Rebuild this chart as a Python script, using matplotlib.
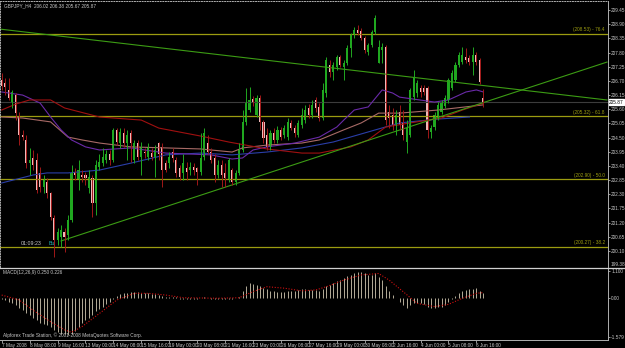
import matplotlib
matplotlib.use("Agg")
import matplotlib.pyplot as plt
from matplotlib.lines import Line2D
import numpy as np

plt.rcParams["font.family"] = ["Liberation Sans Narrow", "Liberation Sans", "DejaVu Sans"]

# ---- GBPJPY H4 candles ----
opens = [206.73, 206.62, 206.35, 205.84, 206.15, 205.30, 204.60, 204.41, 203.51, 203.71,
         203.63, 203.13, 202.58, 202.78, 202.35, 201.38, 200.53, 200.65, 200.84, 200.72,
         201.30, 203.17, 202.86, 203.05, 203.05, 202.55, 202.93, 201.96, 203.36, 203.51,
         203.63, 203.85, 203.63, 204.80, 204.29, 204.68, 204.29, 204.68, 203.63, 204.29,
         203.75, 203.94, 203.75, 203.90, 203.75, 204.29, 204.14, 203.51, 203.51, 203.94,
         203.63, 203.32, 203.13, 203.32, 203.24, 203.36, 203.32, 203.17, 203.75, 204.29,
         203.94, 203.71, 203.05, 203.44, 203.13, 202.86, 203.24, 202.78, 203.13, 204.02,
         205.11, 205.57, 206.00, 205.38, 206.04, 205.11, 204.60, 204.14, 204.68, 204.41,
         204.80, 204.60, 204.52, 205.07, 204.87, 204.60, 204.99, 205.18, 205.65, 205.38,
         205.96, 205.69, 205.26, 206.23, 207.32, 207.05, 207.24, 207.63, 207.24, 207.40,
         207.98, 208.48, 208.67, 208.63, 208.36, 207.82, 208.09, 208.60, 207.40, 207.90,
         208.01, 205.49, 205.38, 204.99, 205.49, 205.07, 204.33, 204.60, 206.07, 206.23,
         206.42, 206.42, 206.42, 204.72, 204.91, 205.30, 205.49, 205.73, 205.96, 206.42,
         206.73, 207.32, 207.43, 207.63, 207.59, 207.43, 207.70, 207.51, 206.02]
highs = [207.01, 206.81, 206.81, 206.35, 206.23, 205.49, 204.80, 204.60, 204.10, 204.02,
         203.90, 203.36, 203.05, 202.93, 202.39, 201.50, 201.00, 201.11, 201.00, 201.50,
         203.44, 203.32, 203.63, 203.24, 203.17, 203.24, 203.05, 203.63, 203.85, 204.10,
         204.02, 204.02, 204.87, 204.87, 204.87, 204.87, 204.80, 204.80, 204.41, 204.41,
         204.33, 204.10, 204.29, 204.10, 204.21, 204.33, 204.29, 203.63, 203.94, 204.10,
         203.75, 203.44, 203.85, 203.55, 203.55, 203.51, 203.36, 204.68, 204.87, 204.60,
         204.10, 203.85, 203.63, 203.63, 203.51, 203.71, 203.32, 203.24, 204.29, 205.57,
         206.42, 206.46, 206.11, 206.15, 206.15, 205.18, 204.87, 204.80, 204.87, 204.95,
         204.91, 204.99, 205.26, 205.18, 204.99, 205.18, 205.65, 205.77, 205.80, 205.96,
         206.07, 205.84, 206.62, 207.63, 207.51, 207.43, 207.70, 207.70, 207.51, 208.09,
         208.56, 208.79, 208.87, 208.75, 208.44, 208.17, 208.67, 209.26, 208.29, 208.17,
         208.09, 205.77, 205.65, 205.57, 205.77, 205.57, 205.18, 206.42, 207.12, 206.73,
         206.54, 206.54, 206.50, 204.99, 205.49, 205.88, 205.96, 206.15, 206.81, 207.12,
         207.43, 207.82, 208.01, 207.98, 207.70, 208.01, 207.82, 207.59, 206.38]
lows = [206.35, 206.15, 205.96, 205.65, 205.18, 204.21, 204.41, 203.32, 203.05, 203.24,
        202.35, 202.39, 202.35, 202.16, 201.30, 199.87, 200.34, 200.26, 200.06, 200.53,
        201.23, 202.86, 202.47, 202.78, 202.66, 202.35, 201.42, 201.50, 203.24, 203.40,
        203.51, 203.44, 203.55, 204.21, 204.10, 204.14, 203.63, 203.55, 203.51, 203.63,
        203.05, 203.71, 203.63, 203.63, 202.97, 203.63, 202.58, 203.17, 203.32, 203.55,
        202.97, 202.86, 202.86, 202.86, 203.05, 203.05, 202.66, 203.05, 203.63, 203.85,
        203.51, 202.78, 202.93, 202.58, 202.58, 202.78, 202.66, 202.66, 203.05, 203.94,
        204.99, 205.49, 205.73, 205.30, 204.80, 204.29, 204.02, 204.02, 204.29, 204.29,
        204.41, 204.49, 204.41, 204.80, 204.52, 204.52, 204.87, 205.07, 205.26, 205.26,
        205.49, 205.15, 205.18, 206.07, 206.85, 206.73, 207.12, 207.24, 206.73, 207.32,
        207.63, 208.36, 208.48, 208.29, 207.78, 207.70, 208.01, 208.52, 207.40, 207.40,
        204.99, 204.87, 204.80, 204.60, 204.80, 204.41, 203.90, 204.52, 205.96, 206.07,
        206.07, 206.15, 204.49, 204.49, 204.80, 205.18, 205.42, 205.65, 205.84, 206.35,
        206.66, 207.24, 207.36, 207.40, 207.32, 206.93, 207.32, 206.58, 205.67]
closes = [206.50, 206.46, 206.04, 206.27, 205.45, 204.60, 204.52, 203.51, 203.63, 203.44,
          202.47, 202.58, 202.86, 202.35, 201.42, 200.53, 200.84, 200.92, 200.65, 201.30,
          203.13, 203.05, 203.24, 202.97, 202.93, 202.97, 201.96, 203.44, 203.55, 203.75,
          203.85, 203.63, 204.80, 204.33, 204.72, 204.29, 204.60, 204.29, 204.29, 203.75,
          204.14, 203.90, 204.14, 203.75, 204.02, 203.85, 203.24, 203.24, 203.75, 203.71,
          203.13, 202.97, 203.51, 203.17, 203.36, 203.24, 203.17, 203.71, 204.68, 203.94,
          203.63, 203.05, 203.44, 203.05, 202.93, 203.63, 202.78, 203.13, 204.02, 205.11,
          205.88, 205.96, 205.88, 206.04, 205.11, 204.49, 204.14, 204.68, 204.41, 204.80,
          204.52, 204.87, 205.11, 204.87, 204.68, 205.07, 205.38, 205.57, 205.38, 205.77,
          205.65, 205.26, 206.35, 207.51, 207.05, 207.32, 207.63, 207.32, 207.40, 207.98,
          208.48, 208.67, 208.56, 208.36, 207.90, 208.09, 208.60, 209.14, 208.01, 208.01,
          205.18, 205.26, 204.99, 205.38, 204.99, 204.60, 204.87, 206.35, 206.85, 206.62,
          206.27, 206.27, 204.80, 204.87, 205.38, 205.77, 205.84, 206.04, 206.73, 207.01,
          207.32, 207.70, 207.70, 207.51, 207.43, 207.70, 207.43, 206.66, 205.87]

# moving averages, sampled at these bars
red_bars = [0, 4, 8, 14, 18, 28, 40, 45, 57, 65, 76, 86, 91, 100, 105, 110, 117, 126, 132, 138]
red_ma = [205.57, 205.80, 205.96, 205.96, 205.65, 205.30, 205.18, 204.87, 204.56, 204.33,
          204.06, 203.90, 203.90, 204.14, 204.41, 204.91, 205.07, 205.26, 205.57, 205.84]
rosy_bars = [0, 6, 14, 19, 23, 28, 37, 57, 66, 69, 76, 86, 91, 98, 103, 108, 114, 125, 138]
rosy_ma = [205.30, 205.26, 205.11, 204.52, 204.41, 204.29, 204.14, 204.06, 203.94, 204.10,
           204.21, 204.29, 204.41, 204.80, 205.07, 205.45, 205.45, 205.57, 205.77]
purple_bars = [0, 6, 11, 14, 17, 20, 24, 28, 37, 47, 60, 66, 69, 72, 76, 84, 91, 96, 98,
               101, 105, 109, 112, 114, 124, 128, 133, 136, 138]
purple_ma = [206.27, 206.15, 205.84, 205.30, 204.80, 204.41, 204.14, 204.02, 204.10, 203.90,
             203.83, 203.67, 203.71, 204.02, 204.14, 204.29, 204.52, 204.91, 205.18, 205.57,
             205.69, 206.35, 206.23, 206.07, 205.88, 205.96, 206.27, 206.35, 206.27]
blue_bars = [0, 9, 13, 19, 28, 37, 47, 57, 66, 76, 86, 95, 105, 114, 125, 134]
blue_ma = [202.74, 203.05, 203.13, 203.13, 203.24, 203.51, 203.83, 203.90, 203.83, 203.94,
           204.10, 204.33, 204.72, 205.07, 205.22, 205.30]

# trend lines (bar, price) end points
down_trend = ([-0.5, 173.4], [208.71, 205.96])
up_trend = ([17, 173.4], [200.49, 207.43])

# fibonacci levels
fib_prices = [208.53, 205.32, 202.90, 200.27]
fib_labels = ["(208.53) - 76.4", "(205.32) - 61.8", "(202.90) - 50.0", "(200.27) - 38.2"]
last_price = 205.87

price_ticks = [209.45, 208.90, 208.35, 207.80, 207.25, 206.70, 206.15, 205.60, 205.05,
               204.50, 203.95, 203.40, 202.85, 202.30, 201.75, 201.20, 200.65, 200.10]

# MACD histogram + signal
macd_hist = [-0.05, -0.10, -0.15, -0.20, -0.30, -0.40, -0.50, -0.60, -0.70, -0.80,
             -0.90, -1.00, -1.05, -1.10, -1.20, -1.30, -1.40, -1.45, -1.45, -1.50,
             -1.45, -1.35, -1.20, -1.00, -0.90, -0.80, -0.70, -0.55, -0.45, -0.35,
             -0.25, -0.15, -0.05, 0.10, 0.15, 0.20, 0.22, 0.25, 0.25, 0.25,
             0.22, 0.20, 0.20, 0.18, 0.15, 0.12, 0.08, 0.06, 0.05, 0.04,
             0.03, -0.03, -0.05, -0.06, -0.05, -0.06, -0.05, 0.02, 0.04, 0.02,
             -0.03, -0.05, -0.04, -0.05, -0.04, -0.03, -0.04, -0.02, 0.05, 0.30,
             0.50, 0.60, 0.58, 0.55, 0.50, 0.42, 0.35, 0.30, 0.28, 0.26,
             0.25, 0.25, 0.27, 0.30, 0.30, 0.32, 0.35, 0.35, 0.33, 0.33,
             0.32, 0.30, 0.35, 0.50, 0.55, 0.62, 0.70, 0.75, 0.80, 0.88,
             0.95, 1.02, 1.05, 1.05, 1.00, 0.95, 0.95, 1.00, 0.85, 0.75,
             0.50, 0.30, 0.12, 0.02, -0.15, -0.30, -0.40, -0.30, -0.20, -0.20,
             -0.22, -0.25, -0.35, -0.40, -0.40, -0.38, -0.35, -0.30, -0.15, -0.05,
             0.10, 0.20, 0.28, 0.33, 0.38, 0.38, 0.40, 0.30, 0.20]
sig_bars = [0, 5, 9, 14, 18, 20, 23, 28, 33, 38, 42, 47, 52, 62, 68, 72, 76, 81, 86, 90,
            93, 98, 103, 108, 111, 115, 119, 124, 128, 132, 136, 138]
sig_vals = [0.12, -0.08, -0.50, -0.97, -1.30, -1.40, -1.17, -0.63, -0.08, 0.19, 0.19, 0.12,
            0.01, -0.01, 0.01, 0.26, 0.46, 0.40, 0.29, 0.33, 0.46, 0.73, 0.94, 1.00, 0.73,
            0.26, -0.22, -0.35, -0.26, -0.01, 0.19, 0.22]

time_labels = ["7 May 2008", "8 May 08:00", "9 May 16:00", "13 May 00:00", "14 May 08:00",
               "15 May 16:00", "19 May 00:00", "20 May 08:00", "21 May 16:00", "23 May 00:00",
               "26 May 08:00", "27 May 16:00", "29 May 00:00", "30 May 08:00", "2 Jun 16:00",
               "4 Jun 00:00", "5 Jun 08:00", "6 Jun 16:00"]

# ---- colours ----
BG = "#000000"
TXT = "#c8c8c8"
AXC = "#b0b0b0"
BULL = "#20a820"
BEAR_BODY = "#f0b8b8"
BEAR_WICK = "#a01818"
FIB = "#9c9c10"
TREND = "#3c9c14"
FS = 3.4

W, H = 625, 348
fig = plt.figure(figsize=(W / 100, H / 100), dpi=100, facecolor=BG)


def px_axes(x0, y0, x1, y1):
    return fig.add_axes([x0 / W, 1 - y1 / H, (x1 - x0) / W, (y1 - y0) / H])


ax = px_axes(0, 1, 608, 267)
mx = px_axes(0, 268, 608, 340)
for a in (ax, mx):
    a.set_facecolor(BG)
    a.set_xlim(-0.49, 173.7)
    for s in a.spines.values():
        s.set_color(AXC)
        s.set_linewidth(0.7)
ax.set_ylim(199.48, 209.80)
mx.set_ylim(-1.714, 1.224)
ax.spines["top"].set_linestyle(":")
ax.spines["left"].set_linestyle(":")
ax.spines["bottom"].set_visible(False)
mx.spines["top"].set_visible(False)
mx.spines["left"].set_visible(False)

n = len(closes)
idx = np.arange(n)
o = np.array(opens); c = np.array(closes)
bull = c >= o

# fibo levels
for p, lab in zip(fib_prices, fib_labels):
    ax.axhline(p, color=FIB, lw=0.9)
    ax.text(172.8, p + 0.05, lab, color=FIB, fontsize=FS, ha="right", va="bottom")
ax.axhline(last_price, color="#3c3c3c", lw=0.8)

# moving averages
ax.plot(blue_bars, blue_ma, color="#2a3ea8", lw=0.8)
ax.plot(rosy_bars, rosy_ma, color="#a86a66", lw=0.8)
ax.plot(purple_bars, purple_ma, color="#6a2aa8", lw=0.8)
ax.plot(red_bars, red_ma, color="#a01010", lw=0.8)

# trend lines
ax.plot(*down_trend, color=TREND, lw=0.8)
ax.plot(*up_trend, color=TREND, lw=0.8)

# candles
ax.vlines(idx[bull], np.array(lows)[bull], np.array(highs)[bull], color=BULL, lw=0.7)
ax.vlines(idx[~bull], np.array(lows)[~bull], np.array(highs)[~bull], color=BEAR_WICK, lw=0.7)
body = np.where(np.abs(c - o) < 0.03, 0.03, c - o)
ax.bar(idx[bull], body[bull], bottom=o[bull], width=0.6, color=BULL, lw=0)
ax.bar(idx[~bull], body[~bull], bottom=o[~bull], width=0.6, color=BEAR_BODY, lw=0)

# right price axis
ax.yaxis.tick_right()
ax.set_yticks(price_ticks)
ax.set_yticklabels([f"{v:.2f}" for v in price_ticks])
ax.tick_params(axis="y", colors=AXC, labelcolor=TXT, labelsize=FS, length=1.5, width=0.6, pad=0.8)
ax.set_xticks([])
ax.text(1.002, last_price, f"{last_price:.2f}", transform=ax.get_yaxis_transform(),
        fontsize=FS, color="black", va="center", ha="left",
        bbox=dict(facecolor="white", edgecolor="white", pad=0.3))
ax.text(0.006, 0.992, "GBPJPY_H4  206.02 206.38 205.67 205.87", transform=ax.transAxes,
        fontsize=FS, color=TXT, va="top", ha="left")
ax.text(5.5, 200.40, "01:09:23", fontsize=FS + 0.4, color=TXT, va="center", ha="left")
ax.text(13.4, 200.40, "Bu", fontsize=FS + 0.4, color="#20b0b0", va="center", ha="left")

# MACD
mx.vlines(idx, 0, macd_hist, color="#b4ac98", lw=0.7)
mx.plot(sig_bars, sig_vals, color="#d01010", lw=0.8, ls=(0, (1, 1.5)))
mx.yaxis.tick_right()
mx.set_yticks([1.1, 0.0, -1.579])
mx.set_yticklabels(["1.100", "0.00", "-1.579"])
mx.tick_params(axis="y", colors=AXC, labelcolor=TXT, labelsize=FS, length=1.5, width=0.6, pad=0.8)
label_bars = list(range(0, 8 * len(time_labels), 8))
mx.set_xticks(label_bars)
mx.set_xticklabels(time_labels, ha="left")
mx.tick_params(axis="x", colors=AXC, labelcolor=TXT, labelsize=FS, length=2, width=0.6, pad=0.5)
mx.text(0.005, 0.97, "MACD(12,26,9) 0.250 0.226", transform=mx.transAxes,
        fontsize=FS, color=TXT, va="top", ha="left")
mx.text(0.005, 0.03, "Alpforex Trade Station, \u00a9 2001-2008 MetaQuotes Software Corp.",
        transform=mx.transAxes, fontsize=FS, color=TXT, va="bottom", ha="left")
fig.text(610.5 / W, 1 - 265 / H, "199.38", fontsize=FS, color=TXT, va="center", ha="left")

# pane separator across the full width
fig.add_artist(Line2D([0, 1], [1 - 267.5 / H] * 2, color="#d0d0d0", lw=0.9))

fig.savefig("out.png", dpi=100, facecolor=BG)
